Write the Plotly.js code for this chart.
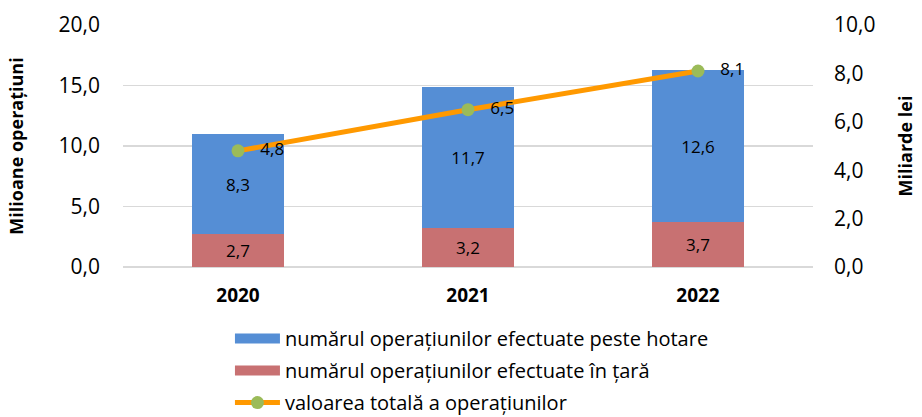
<!DOCTYPE html>
<html>
<head>
<meta charset="utf-8">
<script src="https://cdn.plot.ly/plotly-3.0.1.min.js"></script>
<style>html,body{margin:0;padding:0;background:#fff;}#chart{width:922px;height:417px;}</style>
</head>
<body>
<div id="chart"></div>
<script>
const years = ['2020', '2021', '2022'];
const domestic = [2.7, 3.2, 3.7];
const abroad = [8.3, 11.7, 12.6];
const totalValue = [4.8, 6.5, 8.1];

const nameAbroad = 'numărul operațiunilor efectuate peste hotare';
const nameDomestic = 'numărul operațiunilor efectuate în țară';
const nameValue = 'valoarea totală a operațiunilor';

const FONT = 'Open Sans, Lato, sans-serif';
const BLUE = '#558ED5', RED = '#C87172', ORANGE = '#FF9900', GREEN = '#9BBB59';

const data = [
  {
    type: 'bar', x: years, y: domestic, name: nameDomestic, showlegend: false,
    marker: {color: RED},
    texttemplate: '%{y:.1f}', textposition: 'inside', insidetextanchor: 'middle',
    textfont: {size: 17, color: '#000', family: FONT}, hoverinfo: 'skip'
  },
  {
    type: 'bar', x: years, y: abroad, name: nameAbroad, showlegend: false,
    marker: {color: BLUE},
    texttemplate: '%{y:.1f}', textposition: 'inside', insidetextanchor: 'middle',
    textfont: {size: 17, color: '#000', family: FONT}, hoverinfo: 'skip'
  },
  {
    type: 'scatter', mode: 'lines+markers+text', x: years, y: totalValue, yaxis: 'y2',
    name: nameValue, legendrank: 3, legendgroup: 'c',
    line: {color: ORANGE, width: 5},
    marker: {color: GREEN, size: 13},
    texttemplate: '\u00a0\u00a0\u00a0%{y:.1f}', textposition: 'middle right',
    textfont: {size: 17, color: '#000', family: FONT}, hoverinfo: 'skip'
  },
  // legend swatches for the bar series
  {
    type: 'scatter', mode: 'lines', x: [null], y: [null], name: nameAbroad,
    legendrank: 1, legendgroup: 'a', line: {color: BLUE, width: 13}, hoverinfo: 'skip'
  },
  {
    type: 'scatter', mode: 'lines', x: [null], y: [null], name: nameDomestic,
    legendrank: 2, legendgroup: 'b', line: {color: RED, width: 13}, hoverinfo: 'skip'
  }
];

const layout = {
  width: 922, height: 417,
  margin: {l: 123, r: 109, t: 25, b: 150, autoexpand: false},
  paper_bgcolor: '#fff', plot_bgcolor: '#fff',
  separators: ', ',
  barmode: 'stack', bargap: 0.6,
  font: {family: FONT, color: '#000'},
  showlegend: true,
  legend: {
    x: 0.155, xanchor: 'left', y: -0.215, yanchor: 'top',
    orientation: 'v', traceorder: 'grouped', itemwidth: 45,
    tracegroupgap: 3,
    font: {size: 20, family: FONT, color: '#000'}
  },
  xaxis: {
    type: 'category', showgrid: false, zeroline: false, showline: false,
    ticks: '', tickfont: {size: 19, family: FONT, color: '#000', weight: 'bold'},
    ticklabelstandoff: 15
  },
  yaxis: {
    range: [0, 20], dtick: 5, tickformat: '.1f',
    showgrid: true, gridcolor: '#D9D9D9', gridwidth: 1.5,
    zeroline: true, zerolinecolor: '#D9D9D9', zerolinewidth: 1.5,
    showline: false, ticks: '',
    tickfont: {size: 21, family: FONT, color: '#000'},
    ticklabelstandoff: 22,
    title: {text: 'Milioane operațiuni', font: {size: 18, family: FONT, color: '#000', weight: 'bold'}, standoff: 30}
  },
  yaxis2: {
    overlaying: 'y', side: 'right', range: [0, 10], dtick: 2, tickformat: '.1f',
    showgrid: false, zeroline: false, showline: false, ticks: '',
    tickfont: {size: 21, family: FONT, color: '#000'},
    ticklabelstandoff: 20,
    title: {text: 'Miliarde lei', font: {size: 18, family: FONT, color: '#000', weight: 'bold'}, standoff: 24}
  }
};

Plotly.newPlot('chart', data, layout, {displayModeBar: false, staticPlot: true});
</script>
</body>
</html>
